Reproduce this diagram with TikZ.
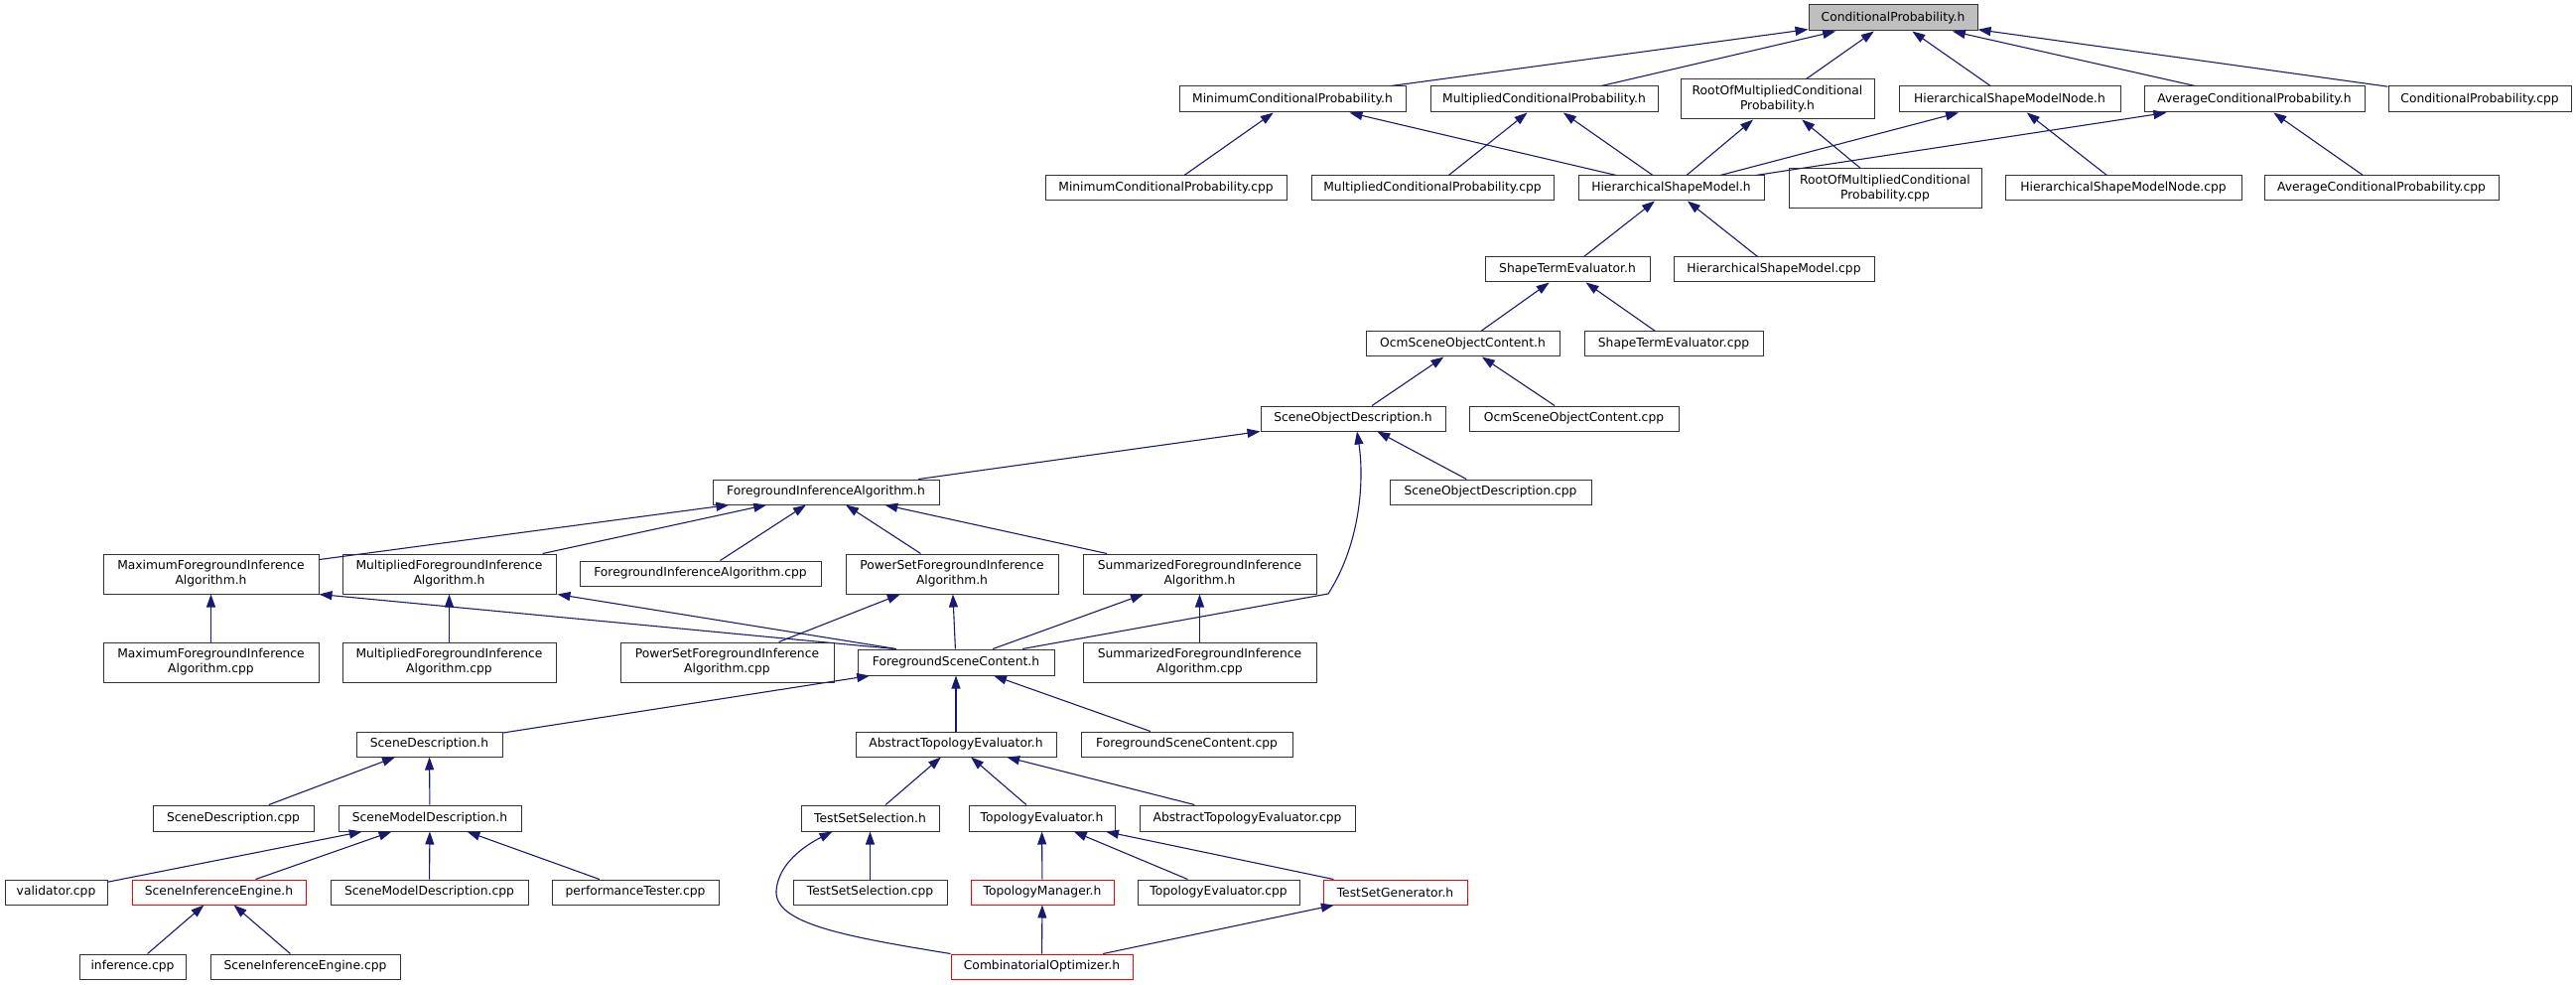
\documentclass[tikz,border=0pt]{standalone}
\usepackage{fontspec}
\setmainfont{DejaVu Sans}
\usetikzlibrary{arrows.meta}
\definecolor{edgeblue}{HTML}{191970}
\definecolor{nodegray}{HTML}{BFBFBF}
\definecolor{nodered}{HTML}{FF0000}
\begin{document}
\begin{tikzpicture}[x=1pt,y=-1pt,
  box/.style={draw=black!80, line width=1pt, fill=white, inner sep=0pt,
    font=\fontsize{12.3}{15}\selectfont, align=center, minimum height=25pt},
  tall/.style={minimum height=40pt},
  redbox/.style={draw=nodered},
  graybox/.style={fill=nodegray},
  edge/.style={draw=edgeblue, line width=1.1pt, -{Triangle[length=13pt,width=9pt]}}
]
\useasboundingbox (0,0) rectangle (2595,992);

% row 1
\node[box,graybox,minimum width=170pt,minimum height=26pt] (cph) at (1907,18) {ConditionalProbability.h};
% row 2
\node[box,minimum width=228pt,minimum height=26pt] (mincph) at (1302,100) {MinimumConditionalProbability.h};
\node[box,minimum width=229pt,minimum height=26pt] (mulcph) at (1555.5,100) {MultipliedConditionalProbability.h};
\node[box,tall,minimum width=195pt] (rootcph) at (1790.5,100) {RootOfMultipliedConditional\\Probability.h};
\node[box,minimum width=223pt,minimum height=26pt] (hsmnh) at (2024.5,100) {HierarchicalShapeModelNode.h};
\node[box,minimum width=222pt,minimum height=26pt] (avgcph) at (2271,100) {AverageConditionalProbability.h};
\node[box,minimum width=184pt,minimum height=26pt] (cpcpp) at (2498,100) {ConditionalProbability.cpp};
% row 3
\node[box,minimum width=243pt] (mincpcpp) at (1174.5,189.5) {MinimumConditionalProbability.cpp};
\node[box,minimum width=244pt] (mulcpcpp) at (1443,189.5) {MultipliedConditionalProbability.cpp};
\node[box,minimum width=187pt] (hsmh) at (1683.5,189.5) {HierarchicalShapeModel.h};
\node[box,tall,minimum width=194pt] (rootcpcpp) at (1899,190) {RootOfMultipliedConditional\\Probability.cpp};
\node[box,minimum width=238pt] (hsmncpp) at (2139,189.5) {HierarchicalShapeModelNode.cpp};
\node[box,minimum width=236pt] (avgcpcpp) at (2399,189.5) {AverageConditionalProbability.cpp};
% row 4
\node[box,minimum width=166pt] (steh) at (1579,271.5) {ShapeTermEvaluator.h};
\node[box,minimum width=202pt] (hsmcpp) at (1787,271.5) {HierarchicalShapeModel.cpp};
% row 5
\node[box,minimum width=195pt] (osoch) at (1473.5,346.5) {OcmSceneObjectContent.h};
\node[box,minimum width=180pt] (stecpp) at (1686,346.5) {ShapeTermEvaluator.cpp};
% row 6
\node[box,minimum width=186pt] (sodh) at (1363,421.5) {SceneObjectDescription.h};
\node[box,minimum width=211pt] (osoccpp) at (1585.5,421.5) {OcmSceneObjectContent.cpp};
% row 7
\node[box,minimum width=228pt] (fiah) at (832,495.5) {ForegroundInferenceAlgorithm.h};
\node[box,minimum width=203pt] (sodcpp) at (1501.5,495.5) {SceneObjectDescription.cpp};
% row 8
\node[box,tall,minimum width=217pt] (maxfiah) at (212.5,578) {MaximumForegroundInference\\Algorithm.h};
\node[box,tall,minimum width=215pt] (mulfiah) at (452.5,578) {MultipliedForegroundInference\\Algorithm.h};
\node[box,minimum width=243pt] (fiacpp) at (705.5,577.5) {ForegroundInferenceAlgorithm.cpp};
\node[box,tall,minimum width=214pt] (psfiah) at (959,578) {PowerSetForegroundInference\\Algorithm.h};
\node[box,tall,minimum width=235pt] (sfiah) at (1208.5,578) {SummarizedForegroundInference\\Algorithm.h};
% row 9
\node[box,tall,minimum width=217pt] (maxfiacpp) at (212.5,667) {MaximumForegroundInference\\Algorithm.cpp};
\node[box,tall,minimum width=215pt] (mulfiacpp) at (452.5,667) {MultipliedForegroundInference\\Algorithm.cpp};
\node[box,tall,minimum width=215pt] (psfiacpp) at (732.5,667) {PowerSetForegroundInference\\Algorithm.cpp};
\node[box,minimum width=198pt,minimum height=26pt] (fsch) at (963,667) {ForegroundSceneContent.h};
\node[box,tall,minimum width=235pt] (sfiacpp) at (1208.5,667) {SummarizedForegroundInference\\Algorithm.cpp};
% row 10
\node[box,minimum width=147pt] (sdh) at (432.5,749.5) {SceneDescription.h};
\node[box,minimum width=202pt] (ateh) at (963,749.5) {AbstractTopologyEvaluator.h};
\node[box,minimum width=213pt] (fsccpp) at (1195.5,749.5) {ForegroundSceneContent.cpp};
% row 11
\node[box,minimum width=162pt,minimum height=26pt] (sdcpp) at (235,824) {SceneDescription.cpp};
\node[box,minimum width=184pt,minimum height=26pt] (smdh) at (433,824) {SceneModelDescription.h};
\node[box,minimum width=139pt,minimum height=26pt] (tssh) at (876.5,824) {TestSetSelection.h};
\node[box,minimum width=147pt,minimum height=26pt] (teh) at (1049.5,824) {TopologyEvaluator.h};
\node[box,minimum width=217pt,minimum height=26pt] (atecpp) at (1256.5,824) {AbstractTopologyEvaluator.cpp};
% row 12
\node[box,minimum width=103pt] (valcpp) at (56.5,898.5) {validator.cpp};
\node[box,redbox,minimum width=175pt] (sieh) at (220.5,898.5) {SceneInferenceEngine.h};
\node[box,minimum width=199pt] (smdcpp) at (432.5,898.5) {SceneModelDescription.cpp};
\node[box,minimum width=168pt] (perfcpp) at (640,898.5) {performanceTester.cpp};
\node[box,minimum width=155pt] (tsscpp) at (876.5,898.5) {TestSetSelection.cpp};
\node[box,redbox,minimum width=144pt] (tmh) at (1050,898.5) {TopologyManager.h};
\node[box,minimum width=163pt] (tecpp) at (1227.5,898.5) {TopologyEvaluator.cpp};
\node[box,redbox,minimum width=145pt] (tsgh) at (1405.5,898.5) {TestSetGenerator.h};
% row 13
\node[box,minimum width=107pt] (infcpp) at (133.5,973.5) {inference.cpp};
\node[box,minimum width=191pt] (siecpp) at (307.5,973.5) {SceneInferenceEngine.cpp};
\node[box,redbox,minimum width=183pt] (coh) at (1049.5,973.5) {CombinatorialOptimizer.h};

% edges
\foreach \c/\p in {mincph/cph, mulcph/cph, rootcph/cph, hsmnh/cph, avgcph/cph, cpcpp/cph,
  mincpcpp/mincph, hsmh/mincph, mulcpcpp/mulcph, hsmh/mulcph, hsmh/rootcph, rootcpcpp/rootcph,
  hsmh/hsmnh, hsmncpp/hsmnh, hsmh/avgcph, avgcpcpp/avgcph,
  steh/hsmh, hsmcpp/hsmh, osoch/steh, stecpp/steh, sodh/osoch, osoccpp/osoch,
  fiah/sodh, sodcpp/sodh,
  maxfiah/fiah, mulfiah/fiah, fiacpp/fiah, psfiah/fiah, sfiah/fiah,
  maxfiacpp/maxfiah, mulfiacpp/mulfiah,
  psfiacpp/psfiah, fsch/psfiah, fsch/sfiah, sfiacpp/sfiah,
  sdh/fsch, ateh/fsch, fsccpp/fsch,
  sdcpp/sdh, smdh/sdh,
  valcpp/smdh, sieh/smdh, smdcpp/smdh, perfcpp/smdh,
  infcpp/sieh, siecpp/sieh,
  tssh/ateh, teh/ateh, atecpp/ateh,
  tsscpp/tssh, tmh/teh, tecpp/teh, tsgh/teh,
  coh/tmh, coh/tsgh}
  {\draw[edge] (\c) -- (\p);}

% edges leaving the top left of ForegroundSceneContent.h
\draw[edge] ([xshift=-62pt]fsch.north) -- (maxfiah.south east);
\draw[edge] ([xshift=-60pt]fsch.north) -- ([xshift=1pt]mulfiah.south east);

% curved edges
\coordinate (k1) at (1338,598);
\draw[edge] ([xshift=67pt]fsch.north) -- (k1) .. controls (1372,545) and (1374,480) .. ([xshift=4pt]sodh.south);
\coordinate (k2) at (782,897);
\draw[edge] (coh.north west) .. controls (850,943) and (780,930) .. (k2)
  .. controls (784,870) and (810,852) .. ([xshift=-38pt]tssh.south);
\end{tikzpicture}
\end{document}
